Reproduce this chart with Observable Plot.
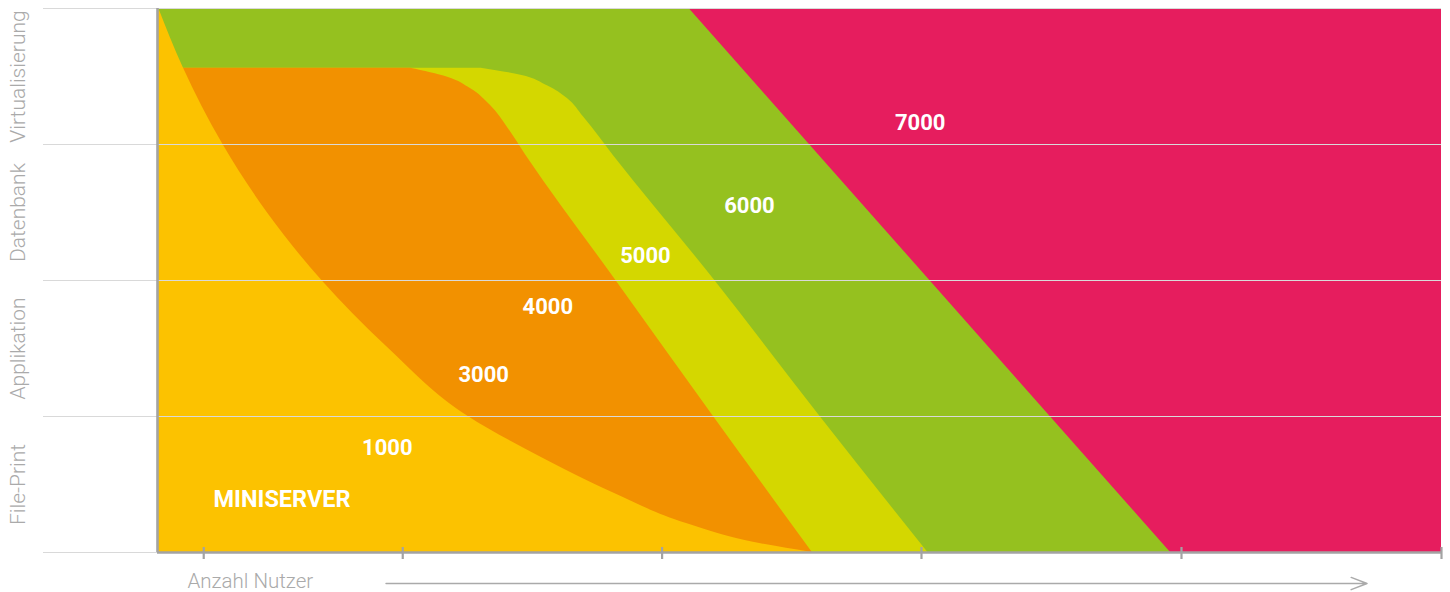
<!DOCTYPE html>
<html><head><meta charset="utf-8">
<script src="https://cdn.jsdelivr.net/npm/d3@7"></script>
<script src="https://cdn.jsdelivr.net/npm/@observablehq/plot@0.6"></script>
<style>html,body{margin:0;padding:0;background:#fff;overflow:hidden}</style>
</head><body><div id="chart"></div>
<script>
// Workload categories (y bands, bottom to top)
const categories = ["File-Print", "Applikation", "Datenbank", "Virtualisierung"];
const gridLevels = [0, 1, 2, 3, 4];
// x axis: share of user range (0–100), tick marks without labels
const xTicks = [3.6, 19.1, 39.3, 59.5, 79.75, 100];

// Right boundary of each region (x reached at workload level y)
const pinkEdge   = [{y: 0, x: 100}, {y: 4, x: 100}];
const greenEdge  = [{y: 0, x: 78.9}, {y: 4, x: 41.4}];
const limeEdge   = [
  {y: 0, x: 60.0}, {y: 1.0, x: 51.6}, {y: 2.0, x: 43.4}, {y: 2.92, x: 35.5},
  {y: 3.2, x: 33.2}, {y: 3.34, x: 31.9}, {y: 3.43, x: 30.4},
  {y: 3.51, x: 28.3}, {y: 3.561, x: 25.2}
];
const orangeEdge = [
  {y: 0, x: 51.0}, {y: 1.0, x: 43.3}, {y: 2.0, x: 35.7}, {y: 2.92, x: 28.7},
  {y: 3.12, x: 27.3}, {y: 3.29, x: 25.9}, {y: 3.41, x: 24.4}, {y: 3.495, x: 22.6},
  {y: 3.561, x: 19.7}
];
const yellowEdge = [
  {y: 0, x: 51.0}, {y: 0.066, x: 46.9}, {y: 0.213, x: 41.2}, {y: 0.434, x: 35.6},
  {y: 0.699, x: 29.9}, {y: 1.0, x: 24.2}, {y: 1.5, x: 18.0}, {y: 2.0, x: 12.8},
  {y: 2.493, x: 8.6}, {y: 3.0, x: 5.1}, {y: 3.566, x: 2.0}, {y: 4.0, x: 0.1}
];

// Region labels
const labelText = ["7000", "6000", "5000", "4000", "3000", "1000"];
const labelX    = [59.4, 46.1, 38.0, 30.4, 25.4, 17.9];
const labelY    = [3.162, 2.551, 2.184, 1.806, 1.305, 0.772];
const labels = labelText.map((t, i) => ({text: t, x: labelX[i], y: labelY[i]}));
const miniLabel = [{text: "MINISERVER", x: 4.36, y: 0.39}];

const axisTitle = ["Anzahl Nutzer"];
const arrowSpan = [{x1: 17.8, x2: 94.2, y: -0.228}];

const colors = {pink: "#e61d5e", green: "#95c11f", lime: "#d4d700", orange: "#f29100", yellow: "#fcc200"};
const grey = "#a3a3a3";

const area = (data, fill) => Plot.areaX(data, {y: "y", x1: () => 0, x2: "x", fill, curve: "monotone-y"});

const chart = Plot.plot({
  width: 1450, height: 592,
  marginTop: 8, marginRight: 9, marginBottom: 40, marginLeft: 157,
  x: {domain: [0, 100], axis: null},
  y: {domain: [0, 4], axis: null},
  style: {fontFamily: "Roboto, 'Open Sans', sans-serif", background: "white"},
  marks: [
    area(pinkEdge, colors.pink),
    area(greenEdge, colors.green),
    area(limeEdge, colors.lime),
    area(orangeEdge, colors.orange),
    area(yellowEdge, colors.yellow),
    Plot.ruleY(gridLevels, {y: d => d, stroke: "#d9d9d9", strokeWidth: 1.2, insetLeft: -114}),
    Plot.ruleX([0], {x: d => d, stroke: grey, strokeWidth: 2.6}),
    Plot.ruleY([0], {y: d => d, stroke: grey, strokeWidth: 2.6}),
    Plot.ruleX(xTicks, {x: d => d, y1: () => 0, y2: () => 0, insetTop: -5, insetBottom: -7, stroke: grey, strokeWidth: 2.2}),
    Plot.text(categories, {text: d => d, y: (d, i) => i + 0.5, frameAnchor: "left", dx: -139, rotate: -90, textAnchor: "middle", lineAnchor: "middle", fill: "#aaaaaa", fontSize: 21, fontWeight: 300}),
    Plot.text(labels, {x: "x", y: "y", text: "text", fill: "white", fontSize: 22, fontWeight: 700}),
    Plot.text(miniLabel, {x: "x", y: "y", text: "text", fill: "white", fontSize: 23.5, fontWeight: 700, textAnchor: "start"}),
    Plot.text(axisTitle, {text: d => d, frameAnchor: "bottom-left", dx: 30, dy: 29, textAnchor: "start", lineAnchor: "middle", fill: "#aaaaaa", fontSize: 20.5, fontWeight: 300}),
    Plot.arrow(arrowSpan, {x1: "x1", x2: "x2", y1: "y", y2: "y", stroke: "#aaaaaa", strokeWidth: 1.5, headLength: 17, headAngle: 42})
  ]
});
document.getElementById("chart").appendChild(chart);
</script>
</body></html>
